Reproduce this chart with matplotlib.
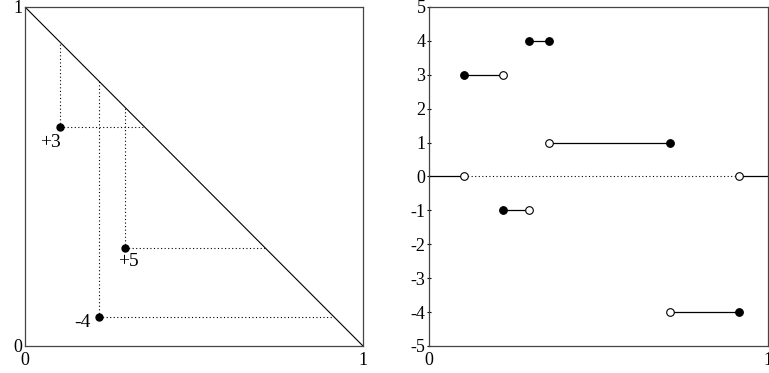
import matplotlib
matplotlib.use("Agg")
import matplotlib.pyplot as plt

plt.rcParams['font.family'] = ['Liberation Serif', 'DejaVu Serif']
plt.rcParams['axes.unicode_minus'] = False

# points (x, y) in the triangle and their weights
point_x = [0.104, 0.296, 0.219]
point_y = [0.646, 0.290, 0.086]
weights = [3, 5, -4]
point_labels = ['+3', '+5', '-4']

# step function pieces: start, end, value, start closed?, end closed?
seg_start = [0.104, 0.219, 0.296, 0.354, 0.710]
seg_end = [0.219, 0.296, 0.354, 0.710, 0.914]
seg_value = [3, -1, 4, 1, -4]
start_closed = [True, True, True, False, False]
end_closed = [False, False, True, True, True]

y_ticks = list(range(-5, 6))

fig = plt.figure(figsize=(7.69, 3.73), dpi=100)
ax1 = fig.add_axes([25/769, 27/373, 338/769, 339/373])
ax2 = fig.add_axes([429/769, 27/373, 339/769, 339/373])

dots = (0, (1, 2.2))

# ---- left panel
ax1.plot([0, 1], [1, 0], color='black', lw=0.8)
for x, y in zip(point_x, point_y):
    ax1.plot([x, x], [y, 1 - x], ls=dots, color='black', lw=0.8)
    ax1.plot([x, 1 - y], [y, y], ls=dots, color='black', lw=0.8)
    ax1.plot(x, y, 'o', color='black', ms=5)
label_dx = [-0.03, 0.01, -0.05]
label_dy = [-0.02, -0.016, 0.008]
for x, y, lab, dx, dy in zip(point_x, point_y, point_labels, label_dx, label_dy):
    ax1.text(x + dx, y + dy, lab, ha='center', va='top', fontsize=14)
ax1.set_xlim(0, 1)
ax1.set_ylim(0, 1)
ax1.set_xticks([0, 1])
ax1.set_xticklabels(['0', '1'])
ax1.set_yticks([0, 1])
ax1.set_yticklabels(['0', '1'])
ax1.tick_params(axis='y', length=0, labelsize=13, pad=2)
ax1.tick_params(axis='x', length=0, labelsize=13, pad=4)
for s in ax1.spines.values():
    s.set_color('#444444')
    s.set_linewidth(0.9)

# ---- right panel
ax2.plot([0, seg_start[0]], [0, 0], color='black', lw=0.9)
ax2.plot([seg_start[0], seg_end[-1]], [0, 0], ls=dots, color='black', lw=0.8)
ax2.plot([seg_end[-1], 1], [0, 0], color='black', lw=0.9)
ax2.plot(seg_start[0], 0, 'o', mfc='white', mec='black', ms=5.5, mew=0.8, zorder=3)
ax2.plot(seg_end[-1], 0, 'o', mfc='white', mec='black', ms=5.5, mew=0.8, zorder=3)
for a, b, v, ca, cb in zip(seg_start, seg_end, seg_value, start_closed, end_closed):
    ax2.plot([a, b], [v, v], color='black', lw=0.9)
    ax2.plot(a, v, 'o', mfc='black' if ca else 'white', mec='black', ms=5.5, mew=0.8, zorder=3)
    ax2.plot(b, v, 'o', mfc='black' if cb else 'white', mec='black', ms=5.5, mew=0.8, zorder=3)
ax2.set_xlim(0, 1)
ax2.set_ylim(-5, 5)
ax2.set_xticks([0, 1])
ax2.set_xticklabels(['0', '1'])
ax2.set_yticks(y_ticks)
ax2.set_yticklabels([str(t) for t in y_ticks])
ax2.tick_params(axis='y', direction='inout', length=3, width=0.8, labelsize=13, pad=1)
ax2.tick_params(axis='x', length=0, labelsize=13, pad=4)
for s in ax2.spines.values():
    s.set_color('#444444')
    s.set_linewidth(0.9)

fig.savefig('out.png', dpi=100)
